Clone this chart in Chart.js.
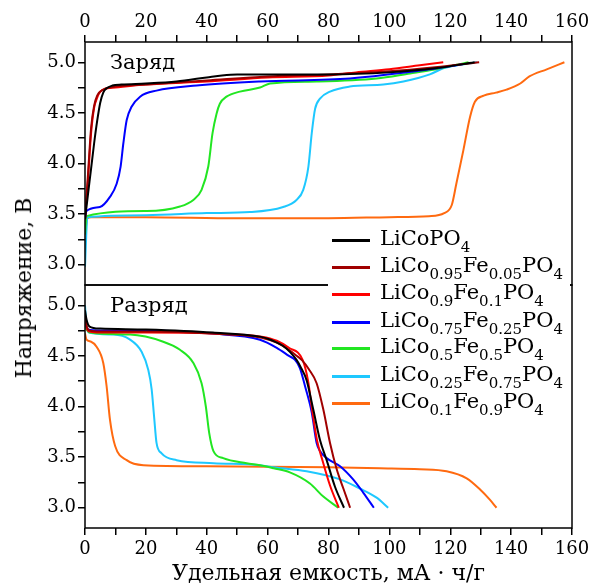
<!DOCTYPE html>
<html><head><meta charset="utf-8">
<script src="https://cdn.jsdelivr.net/npm/chart.js@4/dist/chart.umd.min.js"></script>
<style>
html,body{margin:0;padding:0;background:#fff;}
#wrap{position:relative;width:594px;height:587px;overflow:hidden;font-family:"DejaVu Serif",serif;color:#000;}
canvas{position:absolute;left:0;top:0;}
.lbl{position:absolute;font-size:21px;white-space:nowrap;line-height:1;}
#ytitle{position:absolute;left:24px;top:288px;transform:translate(-50%,-50%) rotate(-90deg);font-size:22px;line-height:1;white-space:nowrap;}
#legend{position:absolute;left:328px;top:229px;width:242px;height:188px;background:#fff;}
.row{position:absolute;left:0;height:27px;width:242px;}
.row .ln{position:absolute;left:4px;width:38px;height:3px;top:12px;}
.row .tx{position:absolute;left:52px;top:-2px;font-size:21px;line-height:27px;white-space:nowrap;}
.row .tx sub{font-size:15px;vertical-align:-7px;line-height:0;}
</style></head>
<body>
<div id="wrap">
<canvas id="cTop" width="594" height="587"></canvas>
<canvas id="cBot" width="594" height="587"></canvas>
<div class="lbl" style="left:110px;top:52px;">Заряд</div>
<div class="lbl" style="left:110px;top:295px;">Разряд</div>
<div id="ytitle">Напряжение, В</div>
<div id="legend"></div>
</div>
<script>
// ---------- data ----------
const seriesNames = ['LiCoPO4','LiCo0.95Fe0.05PO4','LiCo0.9Fe0.1PO4','LiCo0.75Fe0.25PO4','LiCo0.5Fe0.5PO4','LiCo0.25Fe0.75PO4','LiCo0.1Fe0.9PO4'];
const seriesColors = ['#000000','#a00000','#ff0000','#0000ff','#22e622','#1ec8ff','#ff6a10'];

const xTickValues = [0,10,20,30,40,50,60,70,80,90,100,110,120,130,140,150,160];
const yTickValues = [3.0,3.25,3.5,3.75,4.0,4.25,4.5,4.75,5.0];

// Charge (Заряд)
const chgX_0 = [0,1,2,3,4,5,6,7,9,12,20,30,40,45,50,60,80,100,115,128];
const chgV_0 = [3.45,3.7,3.95,4.2,4.42,4.6,4.7,4.74,4.77,4.78,4.79,4.81,4.85,4.87,4.88,4.88,4.88,4.9,4.94,5.0];
const chgX_1 = [0,1,2,3,4,6,10,20,40,60,80,100,115,129.5];
const chgV_1 = [3.45,3.9,4.35,4.57,4.67,4.73,4.76,4.78,4.82,4.86,4.88,4.91,4.95,5.0];
const chgX_2 = [0,1,2,3,4,5,7,10,20,40,60,80,89,100,110,117.7];
const chgV_2 = [3.45,3.85,4.3,4.55,4.65,4.71,4.74,4.75,4.78,4.81,4.85,4.87,4.9,4.93,4.97,5.0];
const chgX_3 = [0,0.5,4.9,8.2,10.4,11.7,12.6,13.7,15.3,18.1,23.5,36.7,57.5,87,113.3,124];
const chgV_3 = [3.45,3.53,3.57,3.67,3.8,3.97,4.2,4.43,4.56,4.66,4.72,4.77,4.81,4.84,4.93,4.98];
const chgX_4 = [0,0.5,20.3,31.2,35.6,38.3,40.5,41.9,43.2,44.3,46.5,50.9,57.5,60.8,76.1,95.8,106.8,113.3,126];
const chgV_4 = [3.3,3.48,3.53,3.575,3.64,3.74,3.97,4.3,4.49,4.59,4.66,4.71,4.75,4.79,4.81,4.84,4.89,4.92,5.0];
const chgX_5 = [0,0.8,20,40,54.2,65.1,69.5,71.7,73.4,74.5,75.6,77.2,80.5,87,98,104.6,113.3,117.7,128.7];
const chgV_5 = [2.98,3.47,3.49,3.51,3.52,3.57,3.64,3.74,3.97,4.3,4.54,4.64,4.71,4.76,4.78,4.81,4.88,4.94,5.0];
const chgX_6 = [0,0.8,2,20,50,80,100,113,118,120.5,122,124.3,126.5,128.1,131,135,138.5,143,146,151.7,157.5];
const chgV_6 = [3.3,3.46,3.47,3.47,3.46,3.46,3.47,3.48,3.51,3.59,3.8,4.13,4.46,4.61,4.67,4.7,4.73,4.79,4.86,4.93,5.0];

// Discharge (Разряд)
const disX_0 = [0,0.5,1.5,5,20,42,57.5,60,65,67.3,69.5,71,72.8,75,77.2,79.4,82.1,85.1];
const disV_0 = [4.95,4.86,4.79,4.77,4.76,4.73,4.69,4.67,4.6,4.54,4.46,4.38,4.26,3.97,3.67,3.47,3.21,3.0];
const disX_1 = [0,0.5,1.5,5,20,42,58,63,67,70,71.2,73.5,76.1,78.3,80.5,82.7,85,87.1];
const disV_1 = [4.9,4.8,4.75,4.74,4.74,4.72,4.68,4.63,4.56,4.49,4.46,4.37,4.23,3.97,3.64,3.38,3.18,3.0];
const disX_2 = [0,0.5,1.5,5,20,42,58,63,67,71.5,73.3,74.6,76.2,78,80.5,83.4];
const disV_2 = [4.88,4.78,4.74,4.73,4.73,4.72,4.69,4.65,4.58,4.46,4.25,3.97,3.67,3.47,3.22,3.0];
const disX_3 = [0,1,5,20,42,57.5,63,67,69,70.6,72.3,74.5,76.1,77.2,79.4,83.8,88.1,91.4,94.9];
const disV_3 = [4.82,4.76,4.75,4.75,4.72,4.66,4.58,4.5,4.46,4.38,4.2,3.94,3.64,3.56,3.49,3.41,3.28,3.15,3.0];
const disX_4 = [0,1.6,14.8,25.7,31.2,35.6,38.3,39.7,40.8,42.2,45.4,53.1,57.5,62,67.3,73.9,78.3,83.2];
const disV_4 = [4.78,4.73,4.71,4.64,4.56,4.43,4.23,4.0,3.74,3.56,3.49,3.44,3.42,3.39,3.35,3.24,3.11,3.0];
const disX_5 = [0,0.5,1.3,9.3,14.8,18.6,20.8,21.9,22.7,23.5,25.1,30.1,42.2,57.5,61.9,72.8,83.8,90.3,95.8,99.6];
const disV_5 = [5.0,4.8,4.73,4.71,4.66,4.54,4.36,4.17,3.9,3.64,3.54,3.47,3.44,3.42,3.4,3.36,3.28,3.19,3.1,3.0];
const disX_6 = [0,0.5,2,3.8,6,7.1,8.2,9.9,13.7,19.2,40,80,96.9,110,118.8,125.4,129.8,133,135.2];
const disV_6 = [4.72,4.66,4.64,4.59,4.43,4.2,3.87,3.61,3.47,3.42,3.41,3.4,3.39,3.38,3.36,3.29,3.18,3.08,3.0];

const chargeX = [chgX_0,chgX_1,chgX_2,chgX_3,chgX_4,chgX_5,chgX_6];
const chargeV = [chgV_0,chgV_1,chgV_2,chgV_3,chgV_4,chgV_5,chgV_6];
const dischargeX = [disX_0,disX_1,disX_2,disX_3,disX_4,disX_5,disX_6];
const dischargeV = [disV_0,disV_1,disV_2,disV_3,disV_4,disV_5,disV_6];

// ---------- chart building ----------
const FONT = 'DejaVu Serif';
function mkDatasets(xs, vs){
  return seriesNames.map((n,i)=>({
    label:n,
    data: xs[i].map((x,j)=>({x:x,y:vs[i][j]})),
    borderColor: seriesColors[i],
    backgroundColor: seriesColors[i],
    borderWidth: 2,
    pointRadius: 0,
    fill:false,
    cubicInterpolationMode:'monotone'
  }));
}
const framePlugin = {id:'frame', afterDraw(c){
  const a=c.chartArea, ctx=c.ctx; ctx.save();
  ctx.strokeStyle='#000'; ctx.lineWidth=1.5;
  ctx.strokeRect(a.left,a.top,a.right-a.left,a.bottom-a.top);
  ctx.restore();
}};
function yScale(){
  return {type:'linear',position:'left',min:2.8,max:5.2,
    afterFit(s){s.width=85;},
    afterBuildTicks(s){s.ticks=yTickValues.map(v=>({value:v}));},
    ticks:{autoSkip:false,padding:2,color:'#000',font:{family:FONT,size:18},
      callback:(v)=>Math.abs(v*2-Math.round(v*2))<1e-6 ? Number(v).toFixed(1) : ''},
    grid:{drawOnChartArea:false,drawTicks:true,tickLength:7,color:'#000',lineWidth:1.5},
    border:{display:false}};
}
function xScale(pos, h, pad, title){
  const s = {type:'linear',position:pos,min:0,max:160,
    afterFit(sc){sc.height=h;},
    afterBuildTicks(sc){sc.ticks=xTickValues.map(v=>({value:v}));},
    ticks:{autoSkip:false,maxRotation:0,padding:pad,color:'#000',font:{family:FONT,size:18},
      callback:(v)=> (Math.round(v)%20===0) ? String(Math.round(v)) : ''},
    grid:{drawOnChartArea:false,drawTicks:true,tickLength:7,color:'#000',lineWidth:1.5},
    border:{display:false}};
  if(title){ s.title={display:true,text:title,color:'#000',font:{family:FONT,size:22},padding:{top:0,bottom:0}}; }
  return s;
}
const common = {responsive:false,animation:false,devicePixelRatio:1,
  plugins:{legend:{display:false},tooltip:{enabled:false}}};

new Chart(document.getElementById('cTop'),{
  type:'line',
  data:{datasets:mkDatasets(chargeX,chargeV)},
  options:Object.assign({},common,{
    layout:{padding:{left:0,right:22,top:0,bottom:302}},
    scales:{x:xScale('top',42,2,null), y:yScale()}
  }),
  plugins:[framePlugin]
});
new Chart(document.getElementById('cBot'),{
  type:'line',
  data:{datasets:mkDatasets(dischargeX,dischargeV)},
  options:Object.assign({},common,{
    layout:{padding:{left:0,right:22,top:285,bottom:0}},
    scales:{x:xScale('bottom',59,4,'Удельная емкость, мА · ч/г'), y:yScale()}
  }),
  plugins:[framePlugin]
});

// legend (HTML, with chemical subscripts)
const leg = document.getElementById('legend');
const rowCenters = [11,38,65,93,119,147,174];
seriesNames.forEach((n,i)=>{
  const r=document.createElement('div'); r.className='row'; r.style.top=(rowCenters[i]-13.5)+'px';
  const l=document.createElement('div'); l.className='ln'; l.style.background=seriesColors[i];
  const t=document.createElement('div'); t.className='tx';
  t.innerHTML=n.replace(/(\d+(?:\.\d+)?)/g,'<sub>$1</sub>');
  r.appendChild(l); r.appendChild(t); leg.appendChild(r);
});
</script>
</body></html>
